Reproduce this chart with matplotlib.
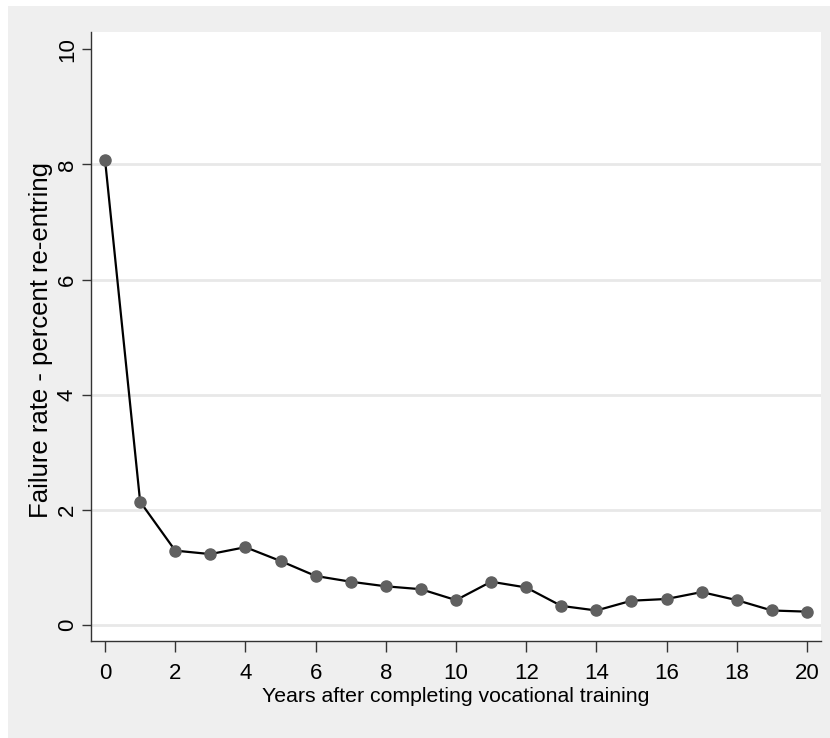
import matplotlib.pyplot as plt
from matplotlib.patches import Rectangle
from matplotlib import font_manager

plt.rcParams['font.family'] = ['Liberation Sans', 'DejaVu Sans']

# failure rate (percent re-entering) by years after training
years = list(range(21))
failure_rate = [8.08, 2.14, 1.29, 1.23, 1.35, 1.11, 0.85, 0.75, 0.67, 0.62, 0.43,
                0.75, 0.65, 0.33, 0.25, 0.42, 0.45, 0.57, 0.43, 0.25, 0.23]
xticks = list(range(0, 21, 2))
yticks = [0, 2, 4, 6, 8, 10]

names = {f.name for f in font_manager.fontManager.ttflist}
narrow = 'Liberation Sans Narrow' in names

fig = plt.figure(figsize=(8.3, 7.38), dpi=100, facecolor='white')
# stata style grey outer region
fig.patches.append(Rectangle((8 / 830, 0), 1, 1 - 6 / 738, transform=fig.transFigure,
                             facecolor='#EFEFEF', edgecolor='none', zorder=-10))

ax = fig.add_axes([91 / 830, 97 / 738, 730 / 830, 609 / 738])
ax.set_facecolor('white')

ax.plot(years, failure_rate, color='black', lw=1.6, marker='o', ms=8,
        mfc='#606060', mec='#606060', zorder=3)

ax.set_xlim(-0.4, 20.4)
ax.set_ylim(-0.28, 10.3)
ax.set_xticks(xticks)
ax.set_yticks(yticks)

for v in yticks[:-1]:
    ax.axhline(v, color='#E8E8E8', lw=2, zorder=1)

for s in ['top', 'right']:
    ax.spines[s].set_visible(False)
for s in ['left', 'bottom']:
    ax.spines[s].set_color('#333333')
    ax.spines[s].set_linewidth(1)

ax.tick_params(axis='both', direction='out', width=1, color='#333333', labelsize=16)
ax.tick_params(axis='x', length=8, pad=8)
ax.tick_params(axis='y', length=6.5, pad=3)
plt.setp(ax.get_yticklabels(), rotation=90, va='center')

if narrow:
    ax.set_xlabel('Years after completing vocational training', fontsize=18,
                  family='Liberation Sans Narrow')
else:
    ax.set_xlabel('Years after completing vocational training', fontsize=15.3)
ax.xaxis.set_label_coords(0.5, -0.075)
ax.set_ylabel('Failure rate - percent re-entring', fontsize=18.5)
ax.yaxis.set_label_coords(-0.052, 0.494)

fig.savefig('out.png', dpi=100, facecolor=fig.get_facecolor())
